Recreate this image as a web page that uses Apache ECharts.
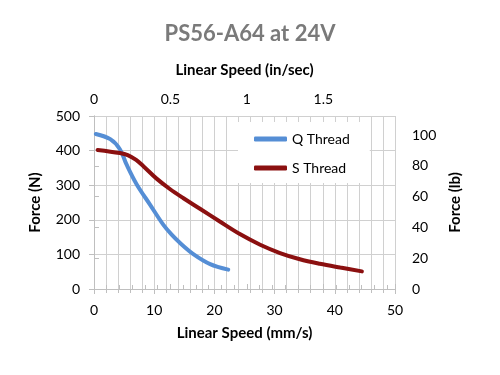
<!DOCTYPE html>
<html>
<head>
<meta charset="utf-8">
<script src="https://cdn.jsdelivr.net/npm/echarts@6/dist/echarts.min.js"></script>
<style>
  html, body { margin: 0; padding: 0; background: #fff; }
  #chart { width: 500px; height: 375px; }
</style>
</head>
<body>
<div id="chart"></div>
<script>
// speeds in mm/s, forces in N
const qSpeed = [0.3, 2.7, 4.3, 5.4, 7.1, 9.3, 11.5, 12.9, 14.3, 16.5, 19.3, 22.3]
const qForce = [448, 433, 404, 360, 302, 244, 186, 157, 133, 101, 72, 56]
const sSpeed = [0.6, 4.3, 5.6, 7.0, 8.2, 10.4, 12.6, 14.8, 17.6, 20.9, 24.3, 27.6, 30.9, 34.2, 37.5, 40.9, 44.5]
const sForce = [402, 393, 387, 373, 355, 319, 289, 263, 232, 195, 158, 128, 104, 86, 73, 62, 51]
const seriesNames = ['Q Thread', 'S Thread']

const MM_PER_IN = 25.4
const N_PER_LB = 4.44822

const font = 'Lato, "Open Sans", sans-serif'
const gridColor = '#d0d0d0'
const axisColor = '#bfbfbf'

const chart = echarts.init(document.getElementById('chart'))

const pairs = (xs, ys) => xs.map((x, i) => [x, ys[i]])

chart.setOption({
  animation: false,
  textStyle: { fontFamily: font },
  title: {
    text: 'PS56-A64 at 24V', left: 'center', top: 18,
    textStyle: { fontSize: 22, fontWeight: 'bold', color: '#7a7a7a', fontFamily: font }
  },
  legend: {
    data: seriesNames, orient: 'vertical', left: 238, top: 122,
    backgroundColor: '#fff', padding: [10, 20, 8, 16], itemGap: 15,
    itemWidth: 33, itemHeight: 5, icon: 'roundRect',
    textStyle: { fontSize: 14, color: '#000', fontFamily: font }
  },
  grid: { left: 94, right: 105, top: 116, bottom: 86 },
  xAxis: [
    {
      type: 'value', position: 'bottom', min: 0, max: 50, interval: 10,
      name: 'Linear Speed (mm/s)', nameLocation: 'middle', nameGap: 37,
      nameTextStyle: { fontSize: 15, fontWeight: 'bold', color: '#000' },
      axisLine: { lineStyle: { color: axisColor } },
      axisTick: { length: 5, lineStyle: { color: axisColor } },
      minorTick: { show: true, splitNumber: 5, length: 4, lineStyle: { color: axisColor } },
      splitLine: { show: true, lineStyle: { color: gridColor } },
      minorSplitLine: { show: true, lineStyle: { color: gridColor } },
      axisLabel: { fontSize: 14, color: '#000', margin: 14 }
    },
    {
      type: 'value', position: 'top', min: 0, max: 50 / MM_PER_IN, interval: 0.5,
      name: 'Linear Speed (in/sec)', nameLocation: 'middle', nameGap: 38,
      nameTextStyle: { fontSize: 15, fontWeight: 'bold', color: '#000' },
      axisLine: { lineStyle: { color: axisColor } },
      axisTick: { length: 5, lineStyle: { color: axisColor } },
      minorTick: { show: true, splitNumber: 6, length: 4, lineStyle: { color: axisColor } },
      splitLine: { show: false },
      axisLabel: { fontSize: 14, color: '#000', margin: 10, showMaxLabel: false }
    }
  ],
  yAxis: [
    {
      type: 'value', min: 0, max: 500, interval: 100,
      name: 'Force (N)', nameLocation: 'middle', nameGap: 51,
      nameTextStyle: { fontSize: 15, fontWeight: 'bold', color: '#000' },
      axisLine: { show: true, lineStyle: { color: axisColor } },
      axisTick: { show: true, length: 5, lineStyle: { color: axisColor } },
      splitLine: { show: true, lineStyle: { color: gridColor } },
      axisLabel: { fontSize: 14, color: '#000', margin: 14 }
    },
    {
      type: 'value', min: 0, max: 500 / N_PER_LB, interval: 20, position: 'right',
      name: 'Force (lb)', nameLocation: 'middle', nameGap: 52,
      nameTextStyle: { fontSize: 15, fontWeight: 'bold', color: '#000' },
      axisLine: { show: true, lineStyle: { color: axisColor } },
      axisTick: { show: true, length: 5, lineStyle: { color: axisColor } },
      splitLine: { show: false },
      axisLabel: { fontSize: 14, color: '#000', margin: 17, showMaxLabel: false }
    }
  ],
  series: [
    {
      name: seriesNames[0], type: 'line', smooth: 0.35, showSymbol: false, symbol: 'none',
      xAxisIndex: 0, yAxisIndex: 0, z: 3,
      data: pairs(qSpeed, qForce),
      lineStyle: { width: 4, color: '#558ED5', cap: 'round' }, itemStyle: { color: '#558ED5' }
    },
    {
      name: seriesNames[1], type: 'line', smooth: 0.35, showSymbol: false, symbol: 'none',
      xAxisIndex: 0, yAxisIndex: 0, z: 4,
      data: pairs(sSpeed, sForce),
      lineStyle: { width: 4, color: '#8B1010', cap: 'round' }, itemStyle: { color: '#8B1010' }
    }
  ]
})
</script>
</body>
</html>
